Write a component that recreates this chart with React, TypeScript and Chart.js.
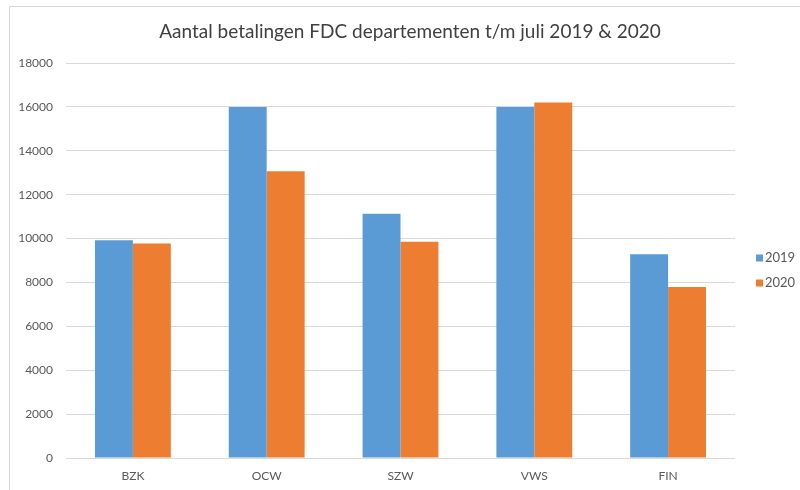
import React, { useEffect, useRef } from "react";
import { Chart, registerables } from "chart.js";

Chart.register(...registerables);

const TITLE = "Aantal betalingen FDC departementen t/m juli 2019 & 2020";
const categories = ["BZK", "OCW", "SZW", "VWS", "FIN"];
const seriesLabels = ["2019", "2020"];
const values2019 = [9920, 16000, 11130, 16000, 9280];
const values2020 = [9780, 13070, 9850, 16200, 7790];
const yMin = 0;
const yMax = 18000;
const yStep = 2000;

const FONT = "Lato";
const BLUE = "#5B9BD5";
const ORANGE = "#ED7D31";
const GRID = "#d9d9d9";
const TEXT = "#595959";

const decorPlugin = {
  id: "decor",
  beforeDraw(chart: any) {
    const ctx = chart.ctx;
    ctx.save();
    ctx.fillStyle = "#ffffff";
    ctx.fillRect(0, 0, chart.width, chart.height);
    ctx.strokeStyle = GRID;
    ctx.lineWidth = 1;
    ctx.beginPath();
    ctx.moveTo(9.5, chart.height);
    ctx.lineTo(9.5, 6.5);
    ctx.lineTo(chart.width, 6.5);
    ctx.stroke();
    ctx.restore();
  },
  afterDraw(chart: any) {
    const ctx = chart.ctx;
    const area = chart.chartArea;
    ctx.save();
    // title
    ctx.fillStyle = "#404040";
    ctx.font = `19px ${FONT}`;
    ctx.textAlign = "center";
    ctx.textBaseline = "middle";
    ctx.fillText(TITLE, 410, 32);
    // legend
    ctx.font = `13px ${FONT}`;
    ctx.textAlign = "left";
    chart.data.datasets.forEach((ds: any, i: number) => {
      const yc = (area.top + area.bottom) / 2 - 2.5 + i * 25;
      const x = area.right + 21;
      ctx.fillStyle = ds.backgroundColor;
      ctx.fillRect(x, yc - 3.5, 7, 7);
      ctx.fillStyle = TEXT;
      ctx.fillText(ds.label, x + 9, yc);
    });
    ctx.restore();
  },
};

export default function App() {
  const canvasRef = useRef<HTMLCanvasElement | null>(null);

  useEffect(() => {
    if (!canvasRef.current) return;
    const chart = new Chart(canvasRef.current, {
      type: "bar",
      data: {
        labels: categories,
        datasets: [
          { label: seriesLabels[0], data: values2019, backgroundColor: BLUE },
          { label: seriesLabels[1], data: values2020, backgroundColor: ORANGE },
        ],
      },
      options: {
        animation: false,
        responsive: false,
        devicePixelRatio: 1,
        layout: { padding: { top: 63, right: 65, bottom: 0, left: 0 } },
        plugins: {
          legend: { display: false },
          title: { display: false },
          tooltip: { enabled: false },
        },
        datasets: {
          bar: { categoryPercentage: 0.567, barPercentage: 1.0 },
        },
        scales: {
          x: {
            grid: { display: false, drawTicks: false },
            border: { display: false },
            ticks: { color: TEXT, font: { family: FONT, size: 12 }, padding: 11 },
            afterFit: (s: any) => {
              s.height = 32;
            },
          },
          y: {
            min: yMin,
            max: yMax,
            grid: { color: GRID, lineWidth: 1, drawTicks: false },
            border: { display: false },
            ticks: {
              stepSize: yStep,
              color: TEXT,
              font: { family: FONT, size: 12 },
              padding: 13,
              callback: (v: any) => String(v),
            },
            afterFit: (s: any) => {
              s.width = 66;
            },
          },
        },
      },
      plugins: [decorPlugin],
    });
    return () => chart.destroy();
  }, []);

  return (
    <div style={{ position: "fixed", left: 0, top: 0, width: 800, height: 490, background: "#fff" }}>
      <canvas ref={canvasRef} width={800} height={490} style={{ width: 800, height: 490, display: "block" }} />
    </div>
  );
}
